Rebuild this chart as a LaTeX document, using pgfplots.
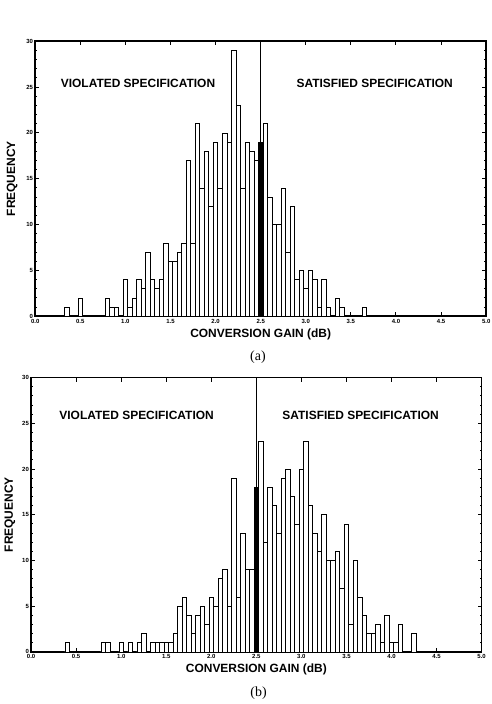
\documentclass[border=0pt]{standalone}
\usepackage{pgfplots}
\pgfplotsset{compat=1.18}
\usepackage{fontspec}
\setmainfont{Liberation Sans}
\newfontfamily\seriffont{Liberation Serif}

\pgfplotstableread{
x y
0.35 1
0.50 2
0.80 2
0.85 1
0.90 1
1.00 4
1.05 1
1.10 2
1.15 4
1.20 3
1.25 7
1.30 4
1.35 3
1.40 4
1.45 8
1.50 6
1.55 6
1.60 7
1.65 8
1.70 17
1.75 8
1.80 21
1.85 14
1.90 18
1.95 12
2.00 19
2.05 14
2.10 20
2.15 19
2.20 29
2.25 23
2.30 14
2.35 19
2.40 18
2.45 17
2.55 21
2.60 13
2.65 10
2.70 10
2.75 14
2.80 7
2.85 12
2.90 4
2.95 5
3.00 3
3.05 5
3.10 4
3.15 1
3.20 4
3.25 1
3.35 2
3.40 1
3.65 1
}\dataA

\pgfplotstableread{
x y
0.40 1
0.80 1
0.85 1
1.00 1
1.10 1
1.20 1
1.25 2
1.35 1
1.40 1
1.45 1
1.50 1
1.55 1
1.60 2
1.65 5
1.70 6
1.75 4
1.80 2
1.85 4
1.90 5
1.95 3
2.00 6
2.05 5
2.10 8
2.15 9
2.20 5
2.25 19
2.30 6
2.35 13
2.40 9
2.45 9
2.55 23
2.60 12
2.65 18
2.70 16
2.75 13
2.80 19
2.85 20
2.90 17
2.95 14
3.00 20
3.05 23
3.10 16
3.15 13
3.20 11
3.25 15
3.30 10
3.35 10
3.40 11
3.45 7
3.50 14
3.55 3
3.60 10
3.65 6
3.70 4
3.75 2
3.80 2
3.85 3
3.90 1
3.95 4
4.00 1
4.05 1
4.10 3
4.25 2
}\dataB

\pgfplotsset{
  histo/.style={
    scale only axis,
    anchor=south west,
    xmin=0, xmax=5, ymin=0, ymax=30,
    xtick={0,0.5,1,1.5,2,2.5,3,3.5,4,4.5,5},
    xticklabels={0.0,0.5,1.0,1.5,2.0,2.5,3.0,3.5,4.0,4.5,5.0},
    ytick={0,5,10,15,20,25,30},
    minor ytick={1,2,3,4,6,7,8,9,11,12,13,14,16,17,18,19,21,22,23,24,26,27,28,29},
    tick align=inside,
    major tick length=4bp,
    minor tick length=2bp,
    axis line style={line width=1.5pt},
    every tick/.style={line width=1pt, black},
    /pgf/number format/assume math mode=true,
    xticklabel style={font=\fontsize{6}{6}\selectfont\bfseries, inner sep=2.5pt},
    yticklabel style={font=\fontsize{6}{6}\selectfont\bfseries, inner sep=2pt},
    xlabel={CONVERSION GAIN (dB)},
    ylabel={FREQUENCY},
    label style={font=\fontsize{12}{12}\selectfont\bfseries},
    xlabel style={at={(axis description cs:0.5,0)}, anchor=center, yshift=-18bp},
    clip=false,
  },
  bars/.style={ybar, bar width=0.05, bar shift=0pt, draw=black, fill=white, line width=0.7pt},
  blackbar/.style={ybar, bar width=0.05, bar shift=0pt, draw=black, fill=black, line width=0.7pt},
}

\begin{document}
\begin{tikzpicture}[x=1bp,y=1bp]
\path[use as bounding box] (0,0) rectangle (492,704);

% (a)
\begin{axis}[histo, at={(39,423)}, width=451bp, height=275bp,
  ylabel style={at={(axis description cs:-0.051,0.5)}, anchor=center}]
  \addplot[bars] table[x=x,y=y] {\dataA};
  \addplot[blackbar] coordinates {(2.5,19)};
  \addplot[black, line width=1pt] coordinates {(2.5,0) (2.5,30)};
  \node[font=\fontsize{12}{12}\selectfont\bfseries] at (axis cs:1.14,25.4) {VIOLATED SPECIFICATION};
  \node[font=\fontsize{12}{12}\selectfont\bfseries] at (axis cs:3.764,25.4) {SATISFIED SPECIFICATION};
  \node[font=\seriffont\fontsize{14}{14}\selectfont] at (rel axis cs:0.494,0) [yshift=-41bp] {(a)};
\end{axis}

% (b)
\begin{axis}[histo, at={(34.5,57)}, width=450.5bp, height=274.3bp,
  ylabel style={at={(axis description cs:-0.047,0.5)}, anchor=center}]
  \addplot[bars] table[x=x,y=y] {\dataB};
  \addplot[blackbar] coordinates {(2.5,18)};
  \addplot[black, line width=1pt] coordinates {(2.5,0) (2.5,30)};
  \node[font=\fontsize{12}{12}\selectfont\bfseries] at (axis cs:1.171,25.9) {VIOLATED SPECIFICATION};
  \node[font=\fontsize{12}{12}\selectfont\bfseries] at (axis cs:3.657,25.9) {SATISFIED SPECIFICATION};
  \node[font=\seriffont\fontsize{14}{14}\selectfont] at (rel axis cs:0.505,0) [yshift=-41bp] {(b)};
\end{axis}
\end{tikzpicture}
\end{document}
